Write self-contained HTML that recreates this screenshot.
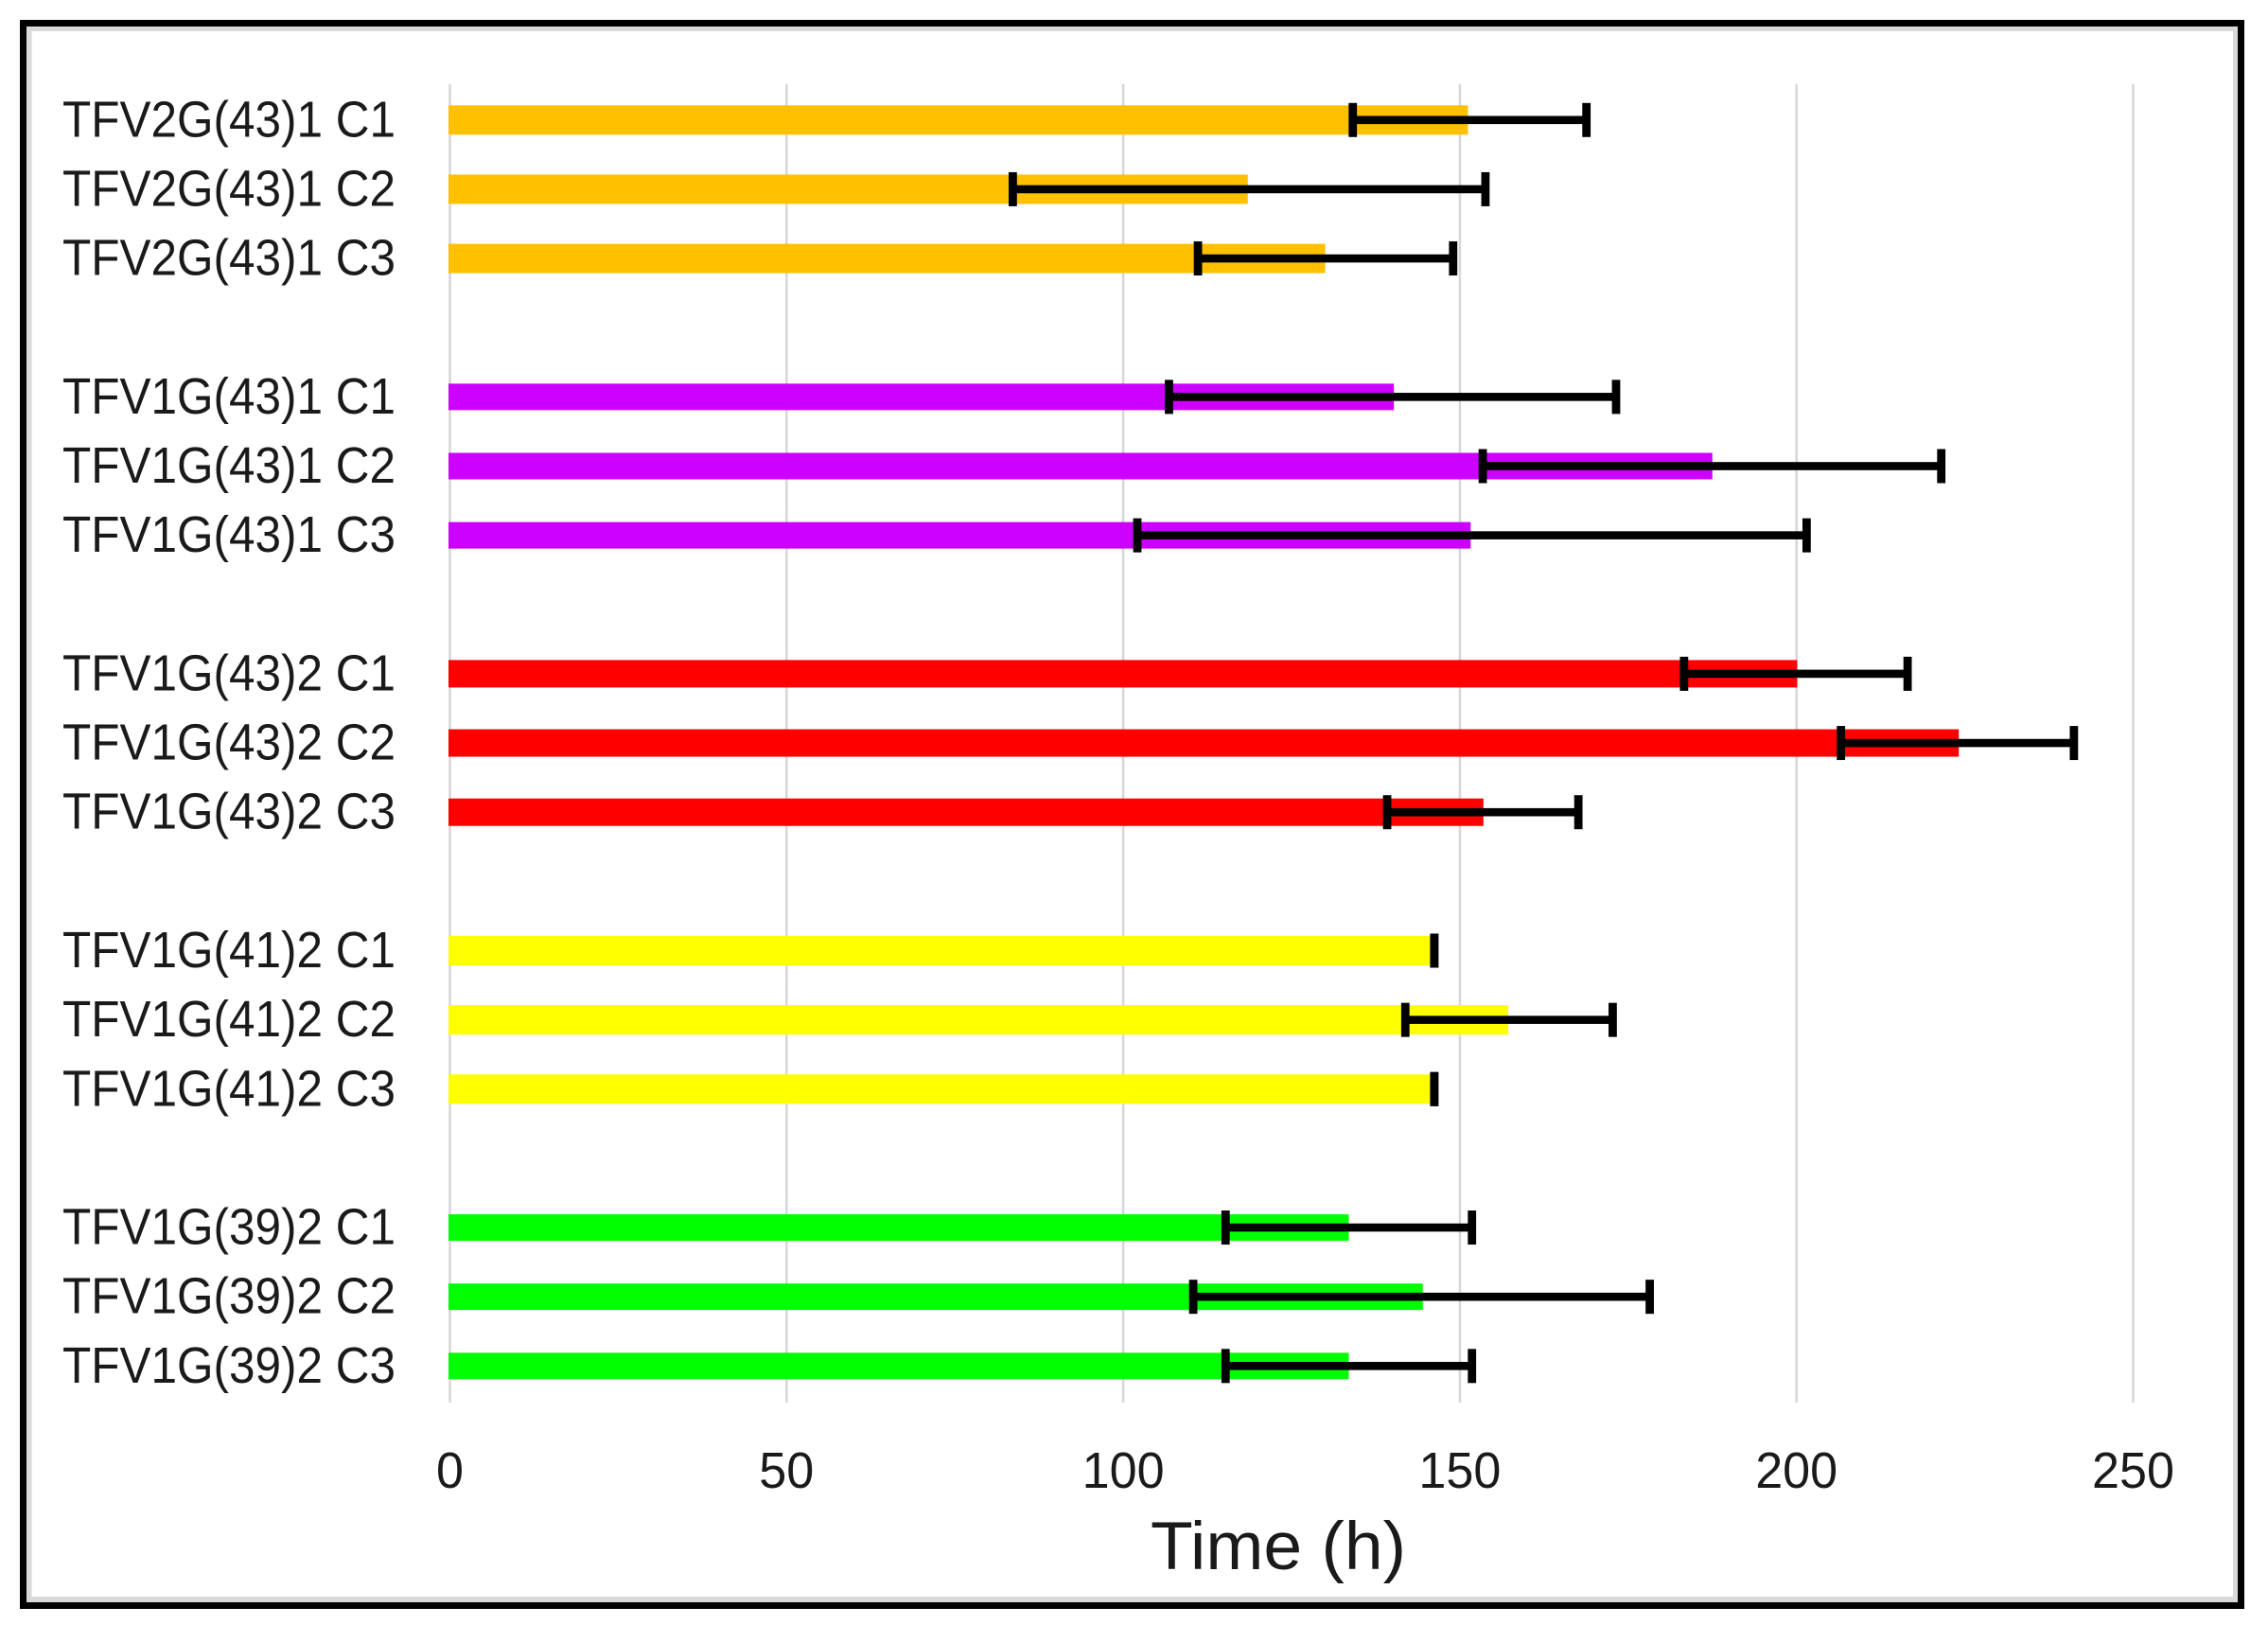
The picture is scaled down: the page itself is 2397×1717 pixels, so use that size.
<!DOCTYPE html>
<html lang="en">
<head>
<meta charset="utf-8">
<title>Time per test</title>
<style>
html,body{margin:0;padding:0;background:#fff;}
body{width:2397px;height:1717px;overflow:hidden;}
svg{display:block;}
text{font-family:"Liberation Sans",sans-serif;fill:#1a1a1a;}
</style>
</head>
<body>
<svg id="chart" xmlns="http://www.w3.org/2000/svg" width="2397" height="1717" viewBox="0 0 2397 1717">
  <rect x="0" y="0" width="2397" height="1717" fill="#ffffff"/>
  <rect x="21" y="21" width="2351" height="1679" fill="#000000"/>
  <rect x="28" y="28" width="2337" height="1665" fill="#d9d9d9"/>
  <rect x="33.5" y="33" width="2326.5" height="1654" fill="#ffffff"/>
  <g id="grid"></g>
  <g id="bars"></g>
  <g id="errors"></g>
  <g id="cats"></g>
  <g id="ticks"></g>
  <text x="1216" y="1658" font-size="71" textLength="270" lengthAdjust="spacingAndGlyphs">Time (h)</text>
</svg>
<script>
const categories = [
  "TFV2G(43)1 C1","TFV2G(43)1 C2","TFV2G(43)1 C3",
  "TFV1G(43)1 C1","TFV1G(43)1 C2","TFV1G(43)1 C3",
  "TFV1G(43)2 C1","TFV1G(43)2 C2","TFV1G(43)2 C3",
  "TFV1G(41)2 C1","TFV1G(41)2 C2","TFV1G(41)2 C3",
  "TFV1G(39)2 C1","TFV1G(39)2 C2","TFV1G(39)2 C3"
];
const timeValues = [151.2,118.5,130,140.2,187.5,151.6,200.1,224.1,153.5,146.2,157.2,146.2,133.5,144.5,133.5];
const errorMinus = [17.1,34.9,18.9,33.4,34.1,49.5,16.8,17.5,14.3,0,15.3,0,18.3,34.1,18.3];
const errorPlus = [17.6,35.3,19,33,34,49.9,16.4,17.1,14.1,0,15.5,0,18.3,33.7,18.3];
const xTicks = [0,50,100,150,200,250];

const groupColors = ["#ffc000","#cc00ff","#ff0000","#ffff00","#00ff00"];
const groupThickness = [31,28,29,31,28];
const SVG_NS = "http://www.w3.org/2000/svg";
const xOrigin = 475.5, xPerUnit = 7.116;
const rowOrigin = 126.8, rowStep = 73.14;
const gridTop = 89, gridBottom = 1482;

function xScale(v){ return xOrigin + xPerUnit * v; }
function rowSlot(i){ return i + Math.floor(i / 3); }
function yScale(i){ return rowOrigin + rowStep * rowSlot(i); }
function groupOf(i){ return Math.floor(i / 3); }
function make(tag, parent, attrs){
  const n = document.createElementNS(SVG_NS, tag);
  for (const k in attrs) n.setAttribute(k, attrs[k]);
  parent.appendChild(n);
  return n;
}

const gridG = document.getElementById("grid");
const barsG = document.getElementById("bars");
const errG = document.getElementById("errors");
const catG = document.getElementById("cats");
const tickG = document.getElementById("ticks");

xTicks.forEach(function(t){
  const line = make("rect", gridG, {x: xScale(t) - 1.25, y: gridTop, width: 2.5, height: gridBottom - gridTop, fill: "#d6d6d6"});
  
  
  const text = String(t);
  const label = make("text", tickG, {x: xScale(t) - text.length * 14.5, y: 1572, "font-size": 54, textLength: text.length * 29, lengthAdjust: "spacingAndGlyphs"});
  
  
  label.textContent = text;
});

categories.forEach(function(name, i){
  const cy = yScale(i);
  const g = groupOf(i);
  const h = groupThickness[g];

  const label = make("text", catG, {x: 66, y: cy + 17.5, "font-size": 54, textLength: 352, lengthAdjust: "spacingAndGlyphs"});
  
  
  label.textContent = name;

  const left = xScale(0) - 1.5;
  const bar = make("rect", barsG, {x: left, y: cy - h / 2, width: xScale(timeValues[i]) - left, height: h, fill: groupColors[g]});
  
  

  const lo = xScale(timeValues[i] - errorMinus[i]);
  const hi = xScale(timeValues[i] + errorPlus[i]);
  const whisker = make("rect", errG, {x: lo, y: cy - 4.3, width: hi - lo, height: 8.6, fill: "#000"});
  
  
  const capLow = make("rect", errG, {x: lo - 4.4, y: cy - 18, width: 8.8, height: 36, fill: "#000"});
  
  
  const capHigh = make("rect", errG, {x: hi - 4.4, y: cy - 18, width: 8.8, height: 36, fill: "#000"});
  
  
});
</script>
</body>
</html>
